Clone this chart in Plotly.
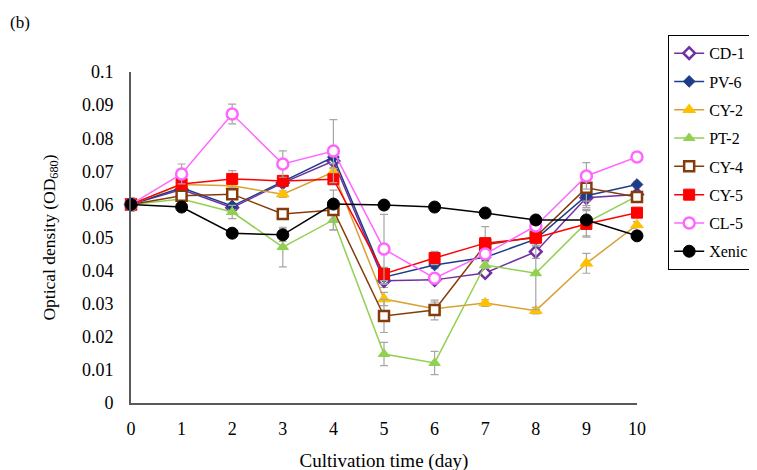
import plotly.graph_objects as go

days = [0, 1, 2, 3, 4, 5, 6, 7, 8, 9, 10]
series_names = ["CD-1", "PV-6", "CY-2", "PT-2", "CY-4", "CY-5", "CL-5", "Xenic"]

cd1 = [0.060, 0.0645, 0.0590, 0.0665, 0.0731, 0.0369, 0.0372, 0.0393, 0.0457, 0.0620, 0.0630]
pv6 = [0.060, 0.0650, 0.0595, 0.0668, 0.0743, 0.0380, 0.0417, 0.0440, 0.0495, 0.0626, 0.0660]
cy2 = [0.060, 0.0660, 0.0656, 0.0631, 0.0698, 0.0314, 0.0285, 0.0302, 0.0279, 0.0422, 0.0538]
pt2 = [0.060, 0.0616, 0.0577, 0.0471, 0.0553, 0.0148, 0.0121, 0.0417, 0.0392, 0.0545, 0.0625]
cy4 = [0.060, 0.0626, 0.0631, 0.0571, 0.0583, 0.0263, 0.0281, 0.0478, 0.0502, 0.0650, 0.0622]
cy5 = [0.060, 0.0662, 0.0677, 0.0671, 0.0676, 0.0390, 0.0438, 0.0483, 0.0499, 0.0541, 0.0575]
cl5 = [0.060, 0.0692, 0.0873, 0.0722, 0.0761, 0.0465, 0.0377, 0.0450, 0.0535, 0.0686, 0.0743]
xenic = [0.060, 0.0592, 0.0513, 0.0508, 0.0601, 0.0598, 0.0592, 0.0574, 0.0553, 0.0553, 0.0505]

err_cd1 = [0.002, 0.001, 0.001, 0.001, 0.002, 0.002, 0.001, 0.001, 0.002, 0.003, 0.001]
err_pv6 = [0.002, 0.001, 0.001, 0.001, 0.002, 0.002, 0.001, 0.001, 0.002, 0.003, 0.001]
err_cy2 = [0.002, 0.001, 0.001, 0.001, 0.001, 0.002, 0.002, 0.001, 0.001, 0.003, 0.001]
err_pt2 = [0.002, 0.001, 0.002, 0.006, 0.003, 0.0035, 0.0035, 0.001, 0.011, 0.004, 0.001]
err_cy4 = [0.002, 0.001, 0.001, 0.001, 0.006, 0.005, 0.003, 0.001, 0.001, 0.004, 0.001]
err_cy5 = [0.002, 0.001, 0.0025, 0.001, 0.001, 0.002, 0.002, 0.005, 0.001, 0.004, 0.001]
err_cl5 = [0.002, 0.003, 0.003, 0.004, 0.0095, 0.0105, 0.001, 0.001, 0.001, 0.004, 0.001]
err_xenic = [0.001, 0.001, 0.001, 0.002, 0.001, 0.001, 0.001, 0.001, 0.001, 0.001, 0.001]

values = [cd1, pv6, cy2, pt2, cy4, cy5, cl5, xenic]
errors = [err_cd1, err_pv6, err_cy2, err_pt2, err_cy4, err_cy5, err_cl5, err_xenic]

styles = [
    dict(line="#7030A0", fill="white", outline="#7030A0", symbol="diamond", size=9, lw=2.5),
    dict(line="#1F3C88", fill="#1F3C88", outline="#1F3C88", symbol="diamond", size=9, lw=1),
    dict(line="#D9A032", fill="#FFC000", outline="#FFC000", symbol="triangle-up", size=11, lw=1),
    dict(line="#92D050", fill="#92D050", outline="#92D050", symbol="triangle-up", size=10, lw=1),
    dict(line="#843C0C", fill="white", outline="#843C0C", symbol="square", size=10, lw=2.5),
    dict(line="#FF0000", fill="#FF0000", outline="#FF0000", symbol="square", size=11, lw=1),
    dict(line="#FF66FF", fill="white", outline="#FF66FF", symbol="circle", size=11, lw=2.5),
    dict(line="#000000", fill="#000000", outline="#000000", symbol="circle", size=12, lw=1),
]

fig = go.Figure()
for name, ys, es, st in zip(series_names, values, errors, styles):
    fig.add_trace(go.Scatter(
        x=days, y=ys, name=name, mode="lines+markers",
        legendgroup=name,
        cliponaxis=False,
        line=dict(color=st["line"], width=1.5),
        marker=dict(symbol=st["symbol"], size=st["size"], color=st["fill"],
                    line=dict(color=st["outline"], width=st["lw"])),
        error_y=dict(type="data", array=es, visible=True, color="#A6A6A6",
                     thickness=1.2, width=4),
    ))

font_family = "Liberation Serif, Times New Roman, serif"

fig.update_layout(
    width=757, height=470,
    margin=dict(l=123, r=128, t=64, b=75, autoexpand=False),
    paper_bgcolor="white", plot_bgcolor="white",
    font=dict(family=font_family, size=17, color="black"),
    showlegend=True,
    legend=dict(
        x=1.061, y=1.112, xanchor="left", yanchor="top",
        bordercolor="black", borderwidth=1.3,
        font=dict(family=font_family, size=16, color="black"),
        tracegroupgap=4.5, itemwidth=30, maxheight=400,
        bgcolor="white",
    ),
    xaxis=dict(
        range=[0, 10], tickvals=days, ticktext=[str(d) for d in days],
        showgrid=False, zeroline=False, showline=True, linecolor="#595959",
        linewidth=2, ticks="", ticklabelstandoff=8,
        title=dict(text="Cultivation time (day)", standoff=16,
                   font=dict(family=font_family, size=19)),
        tickfont=dict(family=font_family, size=18),
    ),
    yaxis=dict(
        range=[0, 0.1], dtick=0.01, tickformat="~g",
        showgrid=False, zeroline=False, showline=True, linecolor="#595959",
        linewidth=2, ticks="", ticklabelstandoff=12,
        title=dict(text="Optical density (OD<sub>680</sub>)", standoff=22,
                   font=dict(family=font_family, size=17.5)),
        tickfont=dict(family=font_family, size=18),
    ),
)
fig.layout.annotations = [dict(text="(b)", x=-0.243, y=1.151, xref="paper", yref="paper",
                               xanchor="left", yanchor="middle", showarrow=False,
                               font=dict(family=font_family, size=17))]

fig.write_html("out.html")
